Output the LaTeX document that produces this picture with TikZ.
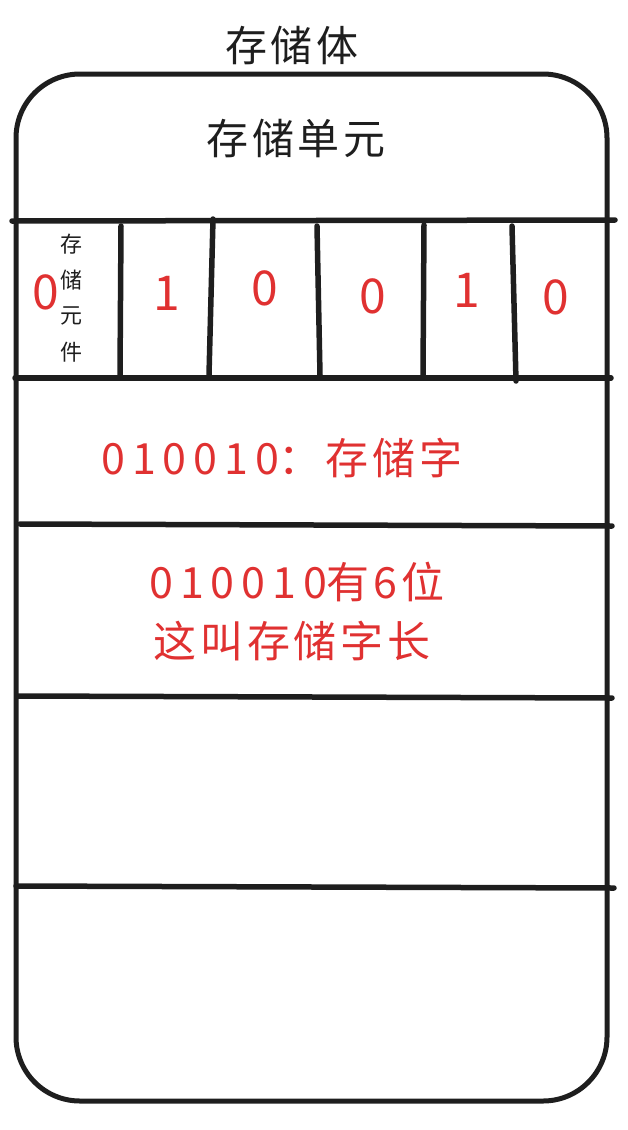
\documentclass[tikz,border=0pt]{standalone}
\usepackage{fontspec}
\setmainfont{Noto Sans CJK SC}
\newfontfamily\hand[LetterSpace=9]{Noto Sans CJK SC}
\newfontfamily\handdig[LetterSpace=16]{Noto Sans CJK SC}
\definecolor{ink}{HTML}{1E1E1E}
\definecolor{redink}{HTML}{E03131}
\tikzset{
  outline/.style={draw=ink, line width=5pt, line cap=round, line join=round},
  rowline/.style={draw=ink, line width=5.5pt, line cap=round},
  divider/.style={draw=ink, line width=5.5pt, line cap=round},
  bigtext/.style={text=ink, font=\hand\fontsize{42}{46}\selectfont, inner sep=0pt},
  redtext/.style={text=redink, font=\hand\fontsize{43}{46}\selectfont, inner sep=0pt},
  digit/.style={text=redink, font=\fontsize{48}{48}\selectfont, inner sep=0pt},
  smalltext/.style={text=ink, font=\fontsize{22}{22}\selectfont, inner sep=0pt},
}
\begin{document}
\begin{tikzpicture}[x=1pt,y=-1pt]
\useasboundingbox (0,0) rectangle (627,1130);
% outer rounded box
\draw[outline, rounded corners=64pt] (16,74) rectangle (607,1101);
% row lines
\coordinate (r1a) at (12,221); \coordinate (r1b) at (615,220);
\coordinate (r2a) at (15,378); \coordinate (r2b) at (611,378);
\coordinate (r3a) at (20,524); \coordinate (r3b) at (612,526);
\coordinate (r4a) at (18,696); \coordinate (r4b) at (612,698);
\coordinate (r5a) at (16,886); \coordinate (r5b) at (614,888);
\draw[rowline] (r1a) -- (r1b);
\draw[rowline] (r2a) -- (r2b);
\draw[rowline] (r3a) -- (r3b);
\draw[rowline] (r4a) -- (r4b);
\draw[rowline] (r5a) -- (r5b);
% cell dividers
\coordinate (d1a) at (121,226); \coordinate (d1b) at (120,375);
\coordinate (d2a) at (213,219); \coordinate (d2b) at (209,375);
\coordinate (d3a) at (317,226); \coordinate (d3b) at (320,375);
\coordinate (d4a) at (424,225); \coordinate (d4b) at (423,375);
\coordinate (d5a) at (512,226); \coordinate (d5b) at (516,381);
\draw[divider] (d1a) -- (d1b);
\draw[divider] (d2a) -- (d2b);
\draw[divider] (d3a) -- (d3b);
\draw[divider] (d4a) -- (d4b);
\draw[divider] (d5a) -- (d5b);
% titles
\node[bigtext] (title) at (292,45) {存储体};
\node[bigtext] (unit) at (296,138) {存储单元};
% small vertical label
\node[smalltext] (s1) at (71,244) {存};
\node[smalltext] (s2) at (71,280) {储};
\node[smalltext] (s3) at (71,316) {元};
\node[smalltext] (s4) at (71,352) {件};
% bits
\node[digit] (b1) at (46,292) {0};
\node[digit] (b2) at (167,293) {1};
\node[digit] (b3) at (265,288) {0};
\node[digit] (b4) at (373,296) {0};
\node[digit] (b5) at (467,290) {1};
\node[digit] (b6) at (556,297) {0};
% red texts
\node[redtext] (word) at (282,458) {{\handdig 010010}：存储字};
\node[redtext] (len1) at (297,582) {{\handdig 010010}有6位};
\node[redtext] (len2) at (292,641) {这叫存储字长};
\end{tikzpicture}
\end{document}
